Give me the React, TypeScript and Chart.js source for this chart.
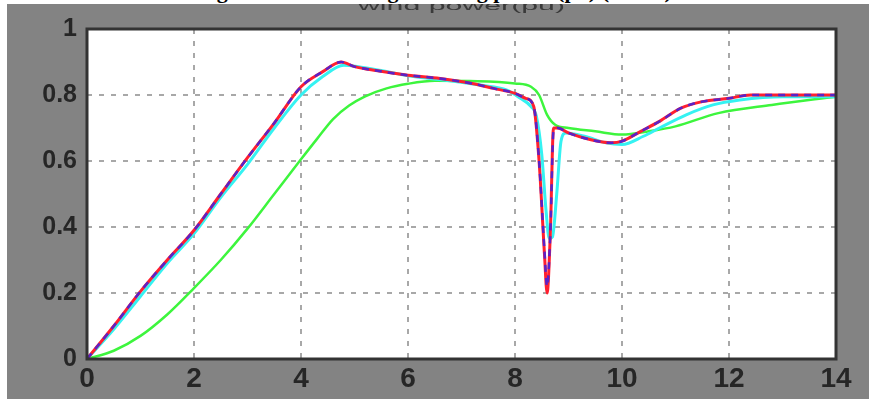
import React, { useEffect, useRef } from "react";
import { Chart, registerables } from "chart.js";

Chart.register(...registerables);

// ---- data ----
const xTicks = [0, 2, 4, 6, 8, 10, 12, 14];
const yTicks = [0, 0.2, 0.4, 0.6, 0.8, 1];
const titleText = "wind power(pu)";
const captionText = "Fig. 8  Wind turbine generating power (pu) (case 1)";

const tRed = [0, 0.5, 1, 1.5, 2, 2.5, 3, 3.5, 4, 4.4, 4.75, 5, 5.4, 6, 6.6, 7.2, 7.6, 8, 8.2, 8.35, 8.45, 8.55, 8.6, 8.66, 8.72, 8.8, 9, 9.4, 9.8, 10, 10.35, 10.7, 11.1, 11.5, 12, 12.4, 13, 14];
const vRed = [0, 0.1, 0.205, 0.3, 0.39, 0.5, 0.61, 0.715, 0.825, 0.87, 0.9, 0.886, 0.874, 0.86, 0.85, 0.835, 0.82, 0.805, 0.79, 0.765, 0.6, 0.32, 0.2, 0.38, 0.7, 0.7, 0.685, 0.665, 0.655, 0.66, 0.69, 0.72, 0.76, 0.78, 0.79, 0.8, 0.8, 0.8];

const tDash = [0, 0.5, 1, 1.5, 2, 2.5, 3, 3.5, 4, 4.4, 4.75, 5, 5.4, 6, 6.6, 7.2, 7.6, 8, 8.2, 8.35, 8.45, 8.55, 8.6, 8.66, 8.72, 8.8, 9, 9.4, 9.8, 10, 10.35, 10.7, 11.1, 11.5, 12, 12.4, 13, 14];
const vDash = [0, 0.1, 0.205, 0.3, 0.39, 0.5, 0.61, 0.715, 0.825, 0.87, 0.9, 0.886, 0.874, 0.86, 0.85, 0.835, 0.82, 0.805, 0.79, 0.765, 0.6, 0.33, 0.22, 0.38, 0.69, 0.7, 0.685, 0.665, 0.655, 0.66, 0.69, 0.72, 0.76, 0.78, 0.79, 0.8, 0.8, 0.8];

const tCyan = [0, 0.5, 1, 1.5, 2, 2.5, 3, 3.5, 4, 4.4, 4.8, 5.1, 5.5, 6.1, 6.7, 7.35, 7.85, 8.1, 8.3, 8.4, 8.5, 8.58, 8.64, 8.7, 8.78, 8.86, 8.95, 9.3, 9.7, 10, 10.4, 10.7, 11.2, 11.7, 12.2, 13, 14];
const vCyan = [0, 0.09, 0.19, 0.29, 0.38, 0.49, 0.59, 0.7, 0.8, 0.855, 0.89, 0.885, 0.874, 0.856, 0.845, 0.83, 0.815, 0.79, 0.765, 0.735, 0.62, 0.45, 0.365, 0.37, 0.5, 0.66, 0.685, 0.675, 0.655, 0.65, 0.675, 0.7, 0.74, 0.77, 0.785, 0.795, 0.795];

const tGreen = [0, 0.5, 1, 1.5, 2, 2.5, 3, 3.5, 4, 4.3, 4.6, 4.9, 5.2, 5.6, 6, 6.5, 7.3, 8.0, 8.3, 8.45, 8.6, 8.75, 9, 9.5, 10, 10.5, 11, 11.8, 12.8, 14];
const vGreen = [0, 0.025, 0.07, 0.135, 0.215, 0.3, 0.395, 0.5, 0.605, 0.667, 0.727, 0.768, 0.796, 0.82, 0.834, 0.843, 0.842, 0.835, 0.825, 0.8, 0.74, 0.71, 0.7, 0.69, 0.68, 0.69, 0.705, 0.745, 0.77, 0.795];

const toPoints = (t: number[], v: number[]) => t.map((x, i) => ({ x, y: v[i] }));

const GRAY = "#838383";

const framePlugin = {
  id: "matlabFrame",
  beforeDraw(chart: any) {
    const { ctx, chartArea } = chart;
    const { left, top, right, bottom } = chartArea;
    ctx.save();
    ctx.fillStyle = GRAY;
    ctx.fillRect(0, 0, chart.width, chart.height);
    ctx.fillStyle = "#ffffff";
    ctx.fillRect(left, top, right - left, bottom - top);
    ctx.restore();
  },
  afterDraw(chart: any) {
    const { ctx, chartArea } = chart;
    const { left, top, right, bottom } = chartArea;
    ctx.save();
    ctx.strokeStyle = "#333333";
    ctx.lineWidth = 3;
    ctx.strokeRect(left, top, right - left, bottom - top);
    // title
    ctx.font = "13px 'Liberation Sans', Arial, sans-serif";
    ctx.fillStyle = "#3a3a3a";
    ctx.textBaseline = "alphabetic";
    ctx.textAlign = "left";
    const w = ctx.measureText(titleText).width;
    const target = 207;
    const sx = target / w;
    const cx = (left + right) / 2;
    ctx.translate(cx - target / 2, 6);
    ctx.scale(sx, 1);
    ctx.fillText(titleText, 0, 0);
    ctx.restore();
  },
};

export default function App() {
  const ref = useRef<HTMLCanvasElement | null>(null);

  useEffect(() => {
    if (!ref.current) return;
    const chart = new Chart(ref.current, {
      type: "line",
      data: {
        datasets: [
          {
            label: "dash",
            data: toPoints(tDash, vDash),
            borderColor: "#5a22c8",
            borderWidth: 2.5,
            borderDash: [7, 6],
            pointRadius: 0,
            cubicInterpolationMode: "monotone",
            order: 0,
          },
          {
            label: "red",
            data: toPoints(tRed, vRed),
            borderColor: "#ff1f2f",
            borderWidth: 3,
            pointRadius: 0,
            cubicInterpolationMode: "monotone",
            order: 1,
          },
          {
            label: "cyan",
            data: toPoints(tCyan, vCyan),
            borderColor: "#35f2f2",
            borderWidth: 3,
            pointRadius: 0,
            cubicInterpolationMode: "monotone",
            order: 2,
          },
          {
            label: "green",
            data: toPoints(tGreen, vGreen),
            borderColor: "#3df53d",
            borderWidth: 2.5,
            pointRadius: 0,
            cubicInterpolationMode: "monotone",
            order: 3,
          },
        ],
      },
      options: {
        animation: false,
        responsive: false,
        events: [],
        layout: { padding: { top: 21, right: 33, left: 0, bottom: 0 } },
        plugins: {
          legend: { display: false },
          tooltip: { enabled: false },
          title: { display: false },
        },
        scales: {
          x: {
            type: "linear",
            min: 0,
            max: 14,
            afterBuildTicks: (s: any) => {
              s.ticks = xTicks.map((v) => ({ value: v }));
            },
            afterFit: (s: any) => {
              s.height = 40;
            },
            ticks: {
              color: "#262626",
              font: { family: "'Liberation Sans', Arial, sans-serif", size: 28, weight: "bold" },
              padding: 3,
              maxRotation: 0,
              autoSkip: false,
              callback: (v: any) => String(v),
            },
            grid: { color: "#a8a8a8", lineWidth: 2, drawTicks: false },
            border: { display: false, dash: [5, 7] },
          },
          y: {
            type: "linear",
            min: 0,
            max: 1,
            afterBuildTicks: (s: any) => {
              s.ticks = yTicks.map((v) => ({ value: v }));
            },
            afterFit: (s: any) => {
              s.width = 80;
            },
            ticks: {
              color: "#262626",
              font: { family: "'Liberation Sans', Arial, sans-serif", size: 25, weight: "bold" },
              padding: 10,
              autoSkip: false,
              callback: (v: any) => {
                const n = Number(v);
                if (n === 0) return "0";
                if (n === 1) return "1";
                return n.toFixed(1);
              },
            },
            grid: { color: "#a8a8a8", lineWidth: 2, drawTicks: false },
            border: { display: false, dash: [5, 7] },
          },
        },
      },
      plugins: [framePlugin],
    });
    return () => chart.destroy();
  }, []);

  return (
    <div style={{ position: "fixed", left: 0, top: 0, width: 869, height: 399, background: "#ffffff", overflow: "hidden" }}>
      <div style={{ position: "absolute", left: 7, top: 4, width: 862, height: 395 }}>
        <canvas ref={ref} width={862} height={395} style={{ width: 862, height: 395, display: "block" }} />
      </div>
      <div style={{ position: "absolute", left: 0, top: 0, width: 869, height: 4, overflow: "hidden", background: "#ffffff" }}>
        <div
          style={{
            position: "absolute",
            left: 0,
            top: -20,
            width: 869,
            textAlign: "center",
            fontFamily: "'Liberation Serif', 'Times New Roman', serif",
            fontWeight: "bold",
            fontSize: 22,
            lineHeight: "22px",
            color: "#000",
            whiteSpace: "nowrap",
          }}
        >
          {captionText}
        </div>
      </div>
    </div>
  );
}
